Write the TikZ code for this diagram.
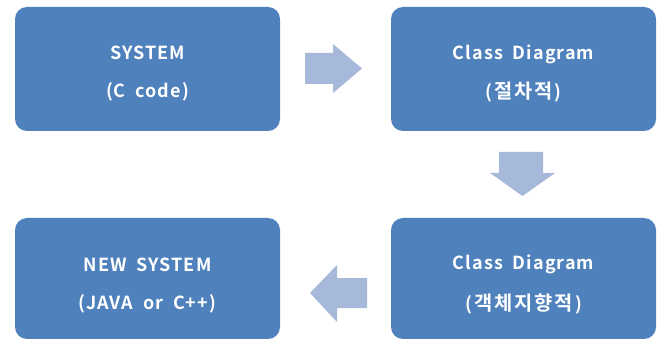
\documentclass[tikz,border=0pt]{standalone}
\usepackage{fontspec}
\setmainfont{Noto Sans CJK KR}[BoldFont={Noto Sans CJK KR Bold}, LetterSpace=6, WordSpace=1.9]
\newfontfamily\kor{Noto Sans CJK KR}[BoldFont={Noto Sans CJK KR Bold}, Scale=1.1, LetterSpace=10]
\newcommand\hangul[1]{\kern2pt{\kor #1}\kern2pt}
\definecolor{boxblue}{HTML}{4F81BD}
\definecolor{arrowblue}{HTML}{A7B9DA}
\begin{document}
\begin{tikzpicture}[x=1pt,y=-1pt,
  stage/.style={fill=boxblue, rounded corners=12pt, minimum width=265pt,
    minimum height=124pt, inner sep=0pt},
  lbl/.style={text=white, inner sep=0pt, font=\bfseries\fontsize{18}{21}\selectfont},
  blockarrow/.style={fill=arrowblue, draw=none}]
\useasboundingbox (0,0) rectangle (664,339);
% four process stages
\node[stage] (sys)  at (147.5,69)  {};
\node[stage] (proc) at (523.5,69)  {};
\node[stage, minimum height=121pt] (oop) at (523.5,278.5) {};
\node[stage, minimum height=121pt] (new) at (147.5,278.5) {};
% captions
\node[lbl] at ([yshift=16pt]sys.center)  {SYSTEM};
\node[lbl] at ([yshift=-23pt]sys.center) {(C code)};
\node[lbl] at ([yshift=15pt]proc.center)  {Class Diagram};
\node[lbl] at ([yshift=-23pt]proc.center) {(\hangul{절차적})};
\node[lbl] at ([yshift=14pt]oop.center)  {Class Diagram};
\node[lbl] at ([yshift=-25pt]oop.center) {(\hangul{객체지향적})};
\node[lbl] at ([yshift=14pt]new.center)  {NEW SYSTEM};
\node[lbl] at ([yshift=-25pt]new.center) {(JAVA or C++)};
% block arrows between the stages
\fill[blockarrow] (305,53) -- (333,53) -- (333,44) -- (362,68.5) -- (333,93)
  -- (333,84) -- (305,84) -- cycle;
\fill[blockarrow] (499,152) -- (543,152) -- (543,173) -- (555,173) -- (522.5,196)
  -- (490,173) -- (499,173) -- cycle;
\fill[blockarrow] (367,278) -- (337,278) -- (337,265) -- (310,293) -- (337,322)
  -- (337,308) -- (367,308) -- cycle;
\end{tikzpicture}
\end{document}
